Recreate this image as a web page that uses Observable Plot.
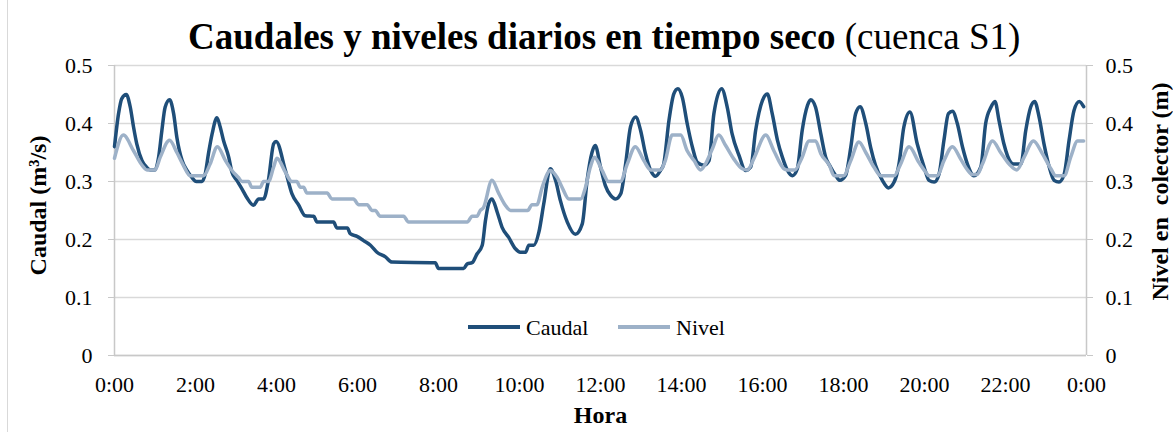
<!DOCTYPE html>
<html>
<head>
<meta charset="utf-8">
<script src="https://cdn.jsdelivr.net/npm/d3@7"></script>
<script src="https://cdn.jsdelivr.net/npm/@observablehq/plot@0.6"></script>
<style>
  html, body { margin: 0; padding: 0; background: #fff; }
  #wrap { position: relative; width: 1173px; height: 432px; overflow: hidden;
          font-family: "Liberation Serif", "Times New Roman", serif; color: #000; }
  #border { position: absolute; left: 7px; top: 0; width: 1px; height: 432px; background: #D9D9D9; }
  #title { position: absolute; left: 188px; top: 18px; font-size: 37px; line-height: 1; white-space: nowrap;
           font-family: "Liberation Serif", "Times New Roman", serif; }
  #title b { font-weight: bold; }
  .lg { position: absolute; font-size: 22px; line-height: 1; white-space: nowrap; }
  .sw { position: absolute; height: 4px; }
</style>
</head>
<body>
<div id="wrap">
  <div id="chart"></div>
  <div id="border"></div>
  <div id="title"><b>Caudales y niveles diarios en tiempo seco</b> (cuenca S1)</div>
  <div id="legend"></div>
</div>
<script>
// ---- Data (hours of day, values) ----
const caudalHora = [0.00,0.10,0.18,0.29,0.39,0.47,0.55,0.68,0.80,0.88,1.00,1.09,1.17,1.25,1.36,1.46,1.54,1.67,1.79,1.91,2.02,2.16,2.24,2.32,2.41,2.53,2.61,2.69,2.82,2.90,3.02,3.15,3.27,3.43,3.56,3.68,3.80,3.93,3.99,4.22,4.38,4.55,4.71,4.92,5.00,5.41,5.49,5.75,5.82,6.00,6.15,6.32,6.48,6.69,6.85,7.92,8.00,8.62,8.71,8.83,8.95,9.08,9.16,9.24,9.32,9.45,9.57,9.73,9.90,10.02,10.15,10.23,10.35,10.48,10.60,10.76,10.89,11.01,11.18,11.38,11.55,11.67,11.79,11.87,12.00,12.12,12.25,12.37,12.50,12.62,12.74,12.87,12.99,13.11,13.24,13.36,13.48,13.56,13.69,13.81,13.91,14.02,14.14,14.27,14.39,14.55,14.68,14.80,14.99,15.13,15.25,15.42,15.58,15.71,15.83,16.00,16.12,16.24,16.37,16.49,16.61,16.74,16.86,16.98,17.11,17.19,17.31,17.44,17.56,17.68,17.81,17.91,18.05,18.18,18.30,18.41,18.55,18.67,18.79,18.96,19.11,19.25,19.37,19.49,19.64,19.82,19.99,20.11,20.24,20.36,20.48,20.59,20.69,20.81,20.94,21.06,21.22,21.39,21.51,21.64,21.74,21.84,21.96,22.13,22.20,22.38,22.50,22.62,22.72,22.83,22.95,23.08,23.20,23.32,23.45,23.57,23.69,23.82,23.93];
const caudalValor = [0.360,0.417,0.443,0.450,0.428,0.394,0.365,0.336,0.324,0.320,0.320,0.342,0.388,0.428,0.441,0.417,0.376,0.336,0.319,0.307,0.300,0.300,0.313,0.348,0.382,0.410,0.394,0.371,0.342,0.316,0.302,0.287,0.272,0.259,0.270,0.270,0.302,0.365,0.369,0.319,0.279,0.259,0.241,0.240,0.230,0.230,0.220,0.220,0.210,0.205,0.198,0.190,0.178,0.170,0.161,0.160,0.150,0.150,0.158,0.160,0.175,0.190,0.233,0.262,0.270,0.247,0.221,0.204,0.184,0.178,0.178,0.190,0.190,0.213,0.262,0.322,0.302,0.267,0.230,0.209,0.227,0.302,0.350,0.362,0.325,0.293,0.276,0.270,0.279,0.330,0.394,0.411,0.388,0.348,0.319,0.309,0.319,0.330,0.405,0.451,0.460,0.445,0.400,0.359,0.333,0.328,0.336,0.417,0.460,0.428,0.382,0.345,0.319,0.325,0.388,0.440,0.451,0.417,0.371,0.342,0.320,0.310,0.322,0.388,0.431,0.441,0.428,0.382,0.342,0.325,0.310,0.302,0.310,0.359,0.417,0.429,0.400,0.359,0.328,0.302,0.289,0.299,0.330,0.394,0.420,0.365,0.325,0.302,0.299,0.313,0.371,0.417,0.421,0.400,0.359,0.330,0.310,0.325,0.400,0.428,0.438,0.405,0.365,0.333,0.330,0.330,0.388,0.428,0.438,0.411,0.365,0.325,0.302,0.299,0.313,0.371,0.422,0.438,0.429];

const nivelHora = [0.00,0.22,0.47,0.68,0.80,1.00,1.13,1.36,1.54,1.70,1.87,2.20,2.36,2.54,2.74,2.90,3.06,3.15,3.31,3.39,3.60,3.68,3.80,3.93,4.01,4.22,4.38,4.50,4.59,4.67,4.75,5.25,5.37,5.90,6.03,6.24,6.36,6.44,6.56,7.14,7.26,8.71,8.83,8.95,9.03,9.11,9.32,9.49,9.65,9.78,10.20,10.31,10.43,10.56,10.76,10.93,11.05,11.22,11.51,11.63,11.75,11.85,12.04,12.20,12.49,12.66,12.86,13.07,13.24,13.48,13.60,13.77,13.98,14.14,14.31,14.47,14.59,14.76,14.92,15.09,15.29,15.50,15.63,15.79,16.08,16.28,16.53,16.60,16.80,16.98,17.15,17.31,17.44,17.65,17.77,18.00,18.18,18.38,18.55,18.75,18.92,19.25,19.41,19.62,19.86,20.03,20.11,20.32,20.48,20.69,20.89,21.06,21.18,21.30,21.43,21.68,21.88,22.09,22.28,22.46,22.69,22.91,23.12,23.24,23.45,23.61,23.78,23.93];
const nivelValor = [0.340,0.380,0.353,0.328,0.320,0.320,0.342,0.371,0.350,0.328,0.310,0.310,0.330,0.360,0.336,0.319,0.307,0.300,0.300,0.290,0.290,0.300,0.300,0.325,0.340,0.316,0.300,0.300,0.290,0.290,0.280,0.280,0.270,0.270,0.260,0.260,0.250,0.250,0.240,0.240,0.230,0.230,0.240,0.240,0.250,0.255,0.302,0.279,0.259,0.250,0.250,0.260,0.260,0.290,0.319,0.307,0.290,0.270,0.270,0.290,0.325,0.342,0.319,0.300,0.300,0.330,0.360,0.336,0.320,0.320,0.336,0.380,0.380,0.353,0.336,0.320,0.330,0.356,0.380,0.362,0.339,0.322,0.320,0.340,0.380,0.353,0.322,0.320,0.320,0.342,0.370,0.370,0.348,0.328,0.310,0.310,0.336,0.368,0.350,0.325,0.310,0.310,0.330,0.360,0.333,0.316,0.310,0.310,0.336,0.360,0.339,0.320,0.312,0.312,0.330,0.370,0.350,0.330,0.320,0.342,0.370,0.348,0.322,0.310,0.310,0.342,0.370,0.370];

const xTicks = [0,2,4,6,8,10,12,14,16,18,20,22,24];
const yTicks = [0,0.1,0.2,0.3,0.4,0.5];
const series = ["Caudal", "Nivel"];
const colors = ["#1F4E79", "#9DB1C8"];
const yLeftTitle = "Caudal (m³/s)";
const yRightTitle = "Nivel en  colector (m)";
const xTitle = "Hora";

const caudal = caudalHora.map((h, i) => ({hora: h, valor: caudalValor[i]}));
const nivel = nivelHora.map((h, i) => ({hora: h, valor: nivelValor[i]}));

const fmtY = d => d === 0 ? "0" : d.toFixed(1);
const fmtX = h => `${h % 24}:00`;

const chart = Plot.plot({
  width: 1173,
  height: 432,
  marginLeft: 114,
  marginRight: 87,
  marginTop: 65,
  marginBottom: 77,
  style: {fontFamily: "'Liberation Serif', 'Times New Roman', serif", fontSize: "22px", color: "#000", background: "transparent", overflow: "visible"},
  x: {domain: [0, 24]},
  y: {domain: [0, 0.5]},
  marks: [
    Plot.gridY(yTicks, {stroke: "#D9D9D9", strokeOpacity: 1, strokeWidth: 1.5}),
    Plot.ruleX([0, 24], {stroke: "#C8C8C8", strokeWidth: 1.5}),
    Plot.ruleY([0], {stroke: "#C8C8C8", strokeWidth: 1.5}),
    Plot.axisY(yTicks, {anchor: "left", tickFormat: fmtY, tickSize: 6, tickPadding: 16, label: null, stroke: "#C8C8C8", fill: "#000"}),
    Plot.axisY(yTicks, {anchor: "right", tickFormat: fmtY, tickSize: 6, tickPadding: 13, label: null, stroke: "#C8C8C8", fill: "#000"}),
    Plot.axisX(xTicks, {anchor: "bottom", tickFormat: fmtX, tickSize: 0, tickPadding: 21, label: null, fill: "#000"}),
    Plot.line(caudal, {x: "hora", y: "valor", stroke: colors[0], strokeWidth: 3.5, curve: "monotone-x"}),
    Plot.line(nivel, {x: "hora", y: "valor", stroke: colors[1], strokeWidth: 3.5, curve: "monotone-x"}),
    Plot.text([yLeftTitle], {frameAnchor: "left", textAnchor: "middle", dx: -76, dy: -5, rotate: -90, fontWeight: "bold", fontSize: 24, fill: "#000"}),
    Plot.text([yRightTitle], {frameAnchor: "right", textAnchor: "middle", dx: 74, dy: -19, rotate: -90, fontWeight: "bold", fontSize: 24, fill: "#000"}),
    Plot.text([xTitle], {frameAnchor: "bottom", dy: 67, fontWeight: "bold", fontSize: 24, fill: "#000"})
  ]
});
document.getElementById("chart").appendChild(chart);

// Legend (inside the plot area)
const legend = document.getElementById("legend");
const legendItems = [
  {name: series[0], color: colors[0], sx: 468, tx: 526},
  {name: series[1], color: colors[1], sx: 618, tx: 676}
];
for (const it of legendItems) {
  const sw = document.createElement("div");
  sw.className = "sw";
  sw.style.left = it.sx + "px";
  sw.style.top = "325px";
  sw.style.width = "52px";
  sw.style.background = it.color;
  legend.appendChild(sw);
  const t = document.createElement("div");
  t.className = "lg";
  t.style.left = it.tx + "px";
  t.style.top = "317px";
  t.textContent = it.name;
  legend.appendChild(t);
}
</script>
</body>
</html>
